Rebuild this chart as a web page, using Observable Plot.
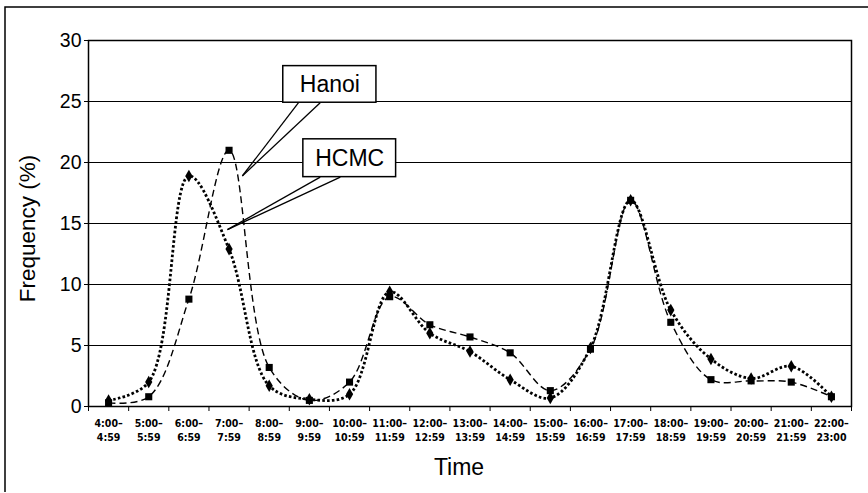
<!DOCTYPE html>
<html>
<head>
<meta charset="utf-8">
<script src="https://cdn.jsdelivr.net/npm/d3@7"></script>
<script src="https://cdn.jsdelivr.net/npm/@observablehq/plot@0.6"></script>
<style>
  html, body { margin: 0; padding: 0; background: #fff; }
  #chart { position: relative; width: 868px; height: 493px; }
</style>
</head>
<body>
<div id="chart"></div>
<script>
// ---- data ----
const categories = ["4:00–\n4:59","5:00–\n5:59","6:00–\n6:59","7:00–\n7:59","8:00–\n8:59","9:00–\n9:59",
  "10:00–\n10:59","11:00–\n11:59","12:00–\n12:59","13:00–\n13:59","14:00–\n14:59","15:00–\n15:59",
  "16:00–\n16:59","17:00–\n17:59","18:00–\n18:59","19:00–\n19:59","20:00–\n20:59","21:00–\n21:59","22:00–\n23:00"];
const hcmc  = [0.5, 2.0, 18.9, 12.9, 1.7, 0.6, 1.0, 9.4, 6.0, 4.5, 2.2, 0.7, 4.8, 16.9, 7.9, 3.9, 2.3, 3.3, 0.8];
const hanoi = [0.3, 0.8, 8.8, 21.0, 3.2, 0.5, 2.0, 9.0, 6.7, 5.7, 4.4, 1.3, 4.7, 16.9, 6.9, 2.2, 2.1, 2.0, 0.8];
const yTicks = [0, 5, 10, 15, 20, 25, 30];
const yTitle = "Frequency (%)";
const xTitle = "Time";

// callout annotations (data coordinates: category index, value)
const calloutLabels = ["Hanoi", "HCMC"];
const calloutBoxX1 = [4.35, 4.85];
const calloutBoxX2 = [6.67, 7.16];
const calloutBoxY1 = [24.9, 18.8];
const calloutBoxY2 = [27.9, 21.9];
const calloutTipX  = [3.33, 2.96];
const calloutTipY  = [18.9, 14.5];
const calloutBaseXa = [4.73, 5.27];
const calloutBaseXb = [5.27, 5.77];

const idx = categories.map((_, i) => i);
const rowsH = idx.map(i => ({i, v: hcmc[i]}));
const rowsN = idx.map(i => ({i, v: hanoi[i]}));
const boxes = calloutLabels.map((label, k) => ({
  label, x1: calloutBoxX1[k], x2: calloutBoxX2[k], y1: calloutBoxY1[k], y2: calloutBoxY2[k],
  tx: calloutTipX[k], ty: calloutTipY[k], ba: calloutBaseXa[k], bb: calloutBaseXb[k]
}));
const wedges = boxes.flatMap(b => [
  {x1: b.ba, y1: b.y1, x2: b.tx, y2: b.ty},
  {x1: b.bb, y1: b.y1, x2: b.tx, y2: b.ty}
]);
const boundaries = d3.range(-0.5, categories.length, 1);

const plot = Plot.plot({
  width: 868,
  height: 493,
  marginLeft: 88,
  marginRight: 17,
  marginTop: 40,
  marginBottom: 87,
  style: {fontFamily: "'Liberation Sans', Arial, sans-serif", color: "#000", background: "#fff"},
  x: {type: "linear", domain: [-0.5, categories.length - 0.5]},
  y: {domain: [0, 30]},
  marks: [
    Plot.gridY(yTicks, {stroke: "#000", strokeOpacity: 1, strokeWidth: 1.2}),
    Plot.axisY(yTicks, {tickSize: 4, tickPadding: 3, fontSize: 19.5, label: null}),
    Plot.axisX(boundaries, {tickSize: 5, tickFormat: () => "", label: null}),
    Plot.axisX(idx, {
      tickSize: 0, tickPadding: 11, tickFormat: i => categories[i],
      fontSize: 10.5, lineHeight: 1.3, fontWeight: "bold",
      fontFamily: "'Liberation Sans Narrow', 'Arial Narrow', 'DejaVu Sans Condensed', sans-serif",
      label: null
    }),
    Plot.text([yTitle], {text: d => d, frameAnchor: "left", textAnchor: "middle", rotate: -90, dx: -61, dy: 5,
      fontSize: 22.5, lineAnchor: "middle", fill: "#000"}),
    Plot.text([xTitle], {text: d => d, frameAnchor: "bottom", textAnchor: "middle", dx: -11, dy: 61,
      fontSize: 23, lineAnchor: "middle", fill: "#000"}),
    Plot.line(rowsN, {x: "i", y: "v", curve: "catmull-rom", stroke: "#000", strokeWidth: 1.4,
      strokeDasharray: "7,4", strokeLinecap: "butt"}),
    Plot.line(rowsH, {x: "i", y: "v", curve: "catmull-rom", stroke: "#000", strokeWidth: 2.8,
      strokeDasharray: "2.6,2.2", strokeLinecap: "butt"}),
    Plot.dot(rowsN, {x: "i", y: "v", symbol: "square", r: 4, fill: "#000", stroke: "none"}),
    Plot.dot(rowsH, {x: "i", y: "v", symbol: "diamond", r: 3.8, fill: "#000", stroke: "none"}),
    Plot.link(wedges, {x1: "x1", y1: "y1", x2: "x2", y2: "y2", stroke: "#000", strokeWidth: 1.3}),
    Plot.rect(boxes, {x1: "x1", x2: "x2", y1: "y1", y2: "y2", fill: "#fff", stroke: "#000", strokeWidth: 1.5}),
    Plot.text(boxes, {x: d => (d.x1 + d.x2) / 2, y: d => (d.y1 + d.y2) / 2, text: "label",
      fontSize: 23, fill: "#000"}),
    Plot.frame({stroke: "#000", strokeWidth: 1.5})
  ]
});

// outer border of the figure (top and left)
d3.select(plot).append("path")
  .attr("d", "M5,492V7H868")
  .attr("fill", "none").attr("stroke", "#000").attr("stroke-width", 1.5);

document.getElementById("chart").appendChild(plot);
</script>
</body>
</html>
